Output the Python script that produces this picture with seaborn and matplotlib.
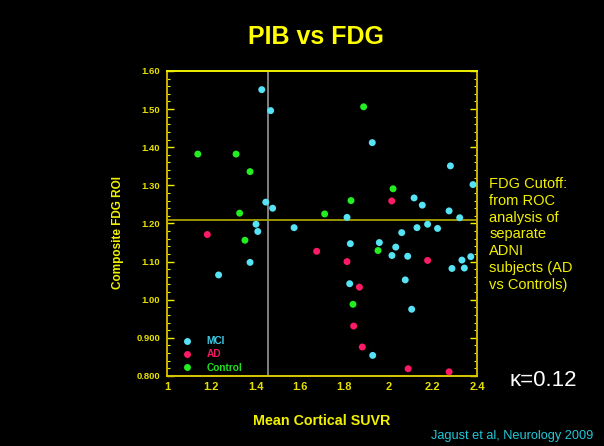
import matplotlib
matplotlib.use("Agg")
import matplotlib.pyplot as plt
import seaborn as sns
import pandas as pd
from matplotlib.ticker import MultipleLocator

# ---- data ----
mci_x = [1.428, 1.468, 1.446, 1.477, 1.402, 1.574, 1.410, 1.375, 1.233, 1.927,
         2.280, 2.382, 2.116, 2.153, 1.813, 2.274, 2.322, 2.129, 2.177, 2.222,
         2.060, 1.828, 1.959, 2.033, 2.016, 2.087, 2.372, 2.332, 2.287, 2.343,
         2.076, 1.825, 2.105, 1.929]
mci_y = [1.551, 1.496, 1.256, 1.240, 1.198, 1.189, 1.179, 1.098, 1.065, 1.412,
         1.351, 1.302, 1.267, 1.248, 1.216, 1.233, 1.215, 1.189, 1.198, 1.187,
         1.176, 1.147, 1.150, 1.138, 1.116, 1.114, 1.113, 1.104, 1.082, 1.083,
         1.052, 1.042, 0.975, 0.854]
ad_x = [1.182, 1.676, 2.015, 1.813, 2.177, 1.869, 1.843, 1.882, 2.089, 2.274]
ad_y = [1.171, 1.127, 1.259, 1.100, 1.103, 1.033, 0.931, 0.876, 0.819, 0.811]
ctrl_x = [1.139, 1.312, 1.375, 1.328, 1.712, 1.888, 2.021, 1.831, 1.352, 1.953, 1.840]
ctrl_y = [1.382, 1.382, 1.336, 1.227, 1.225, 1.506, 1.291, 1.260, 1.156, 1.129, 0.988]

groups = ["MCI", "AD", "Control"]
x_ticks = [1.0, 1.2, 1.4, 1.6, 1.8, 2.0, 2.2, 2.4]
x_tick_labels = ["1", "1.2", "1.4", "1.6", "1.8", "2", "2.2", "2.4"]
y_ticks = [0.8, 0.9, 1.0, 1.1, 1.2, 1.3, 1.4, 1.5, 1.6]
y_tick_labels = ["0.800", "0.900", "1.00", "1.10", "1.20", "1.30", "1.40", "1.50", "1.60"]
pib_cutoff = 1.455
fdg_cutoff = 1.21

df = pd.DataFrame({
    "x": mci_x + ad_x + ctrl_x,
    "y": mci_y + ad_y + ctrl_y,
    "group": ["MCI"] * len(mci_x) + ["AD"] * len(ad_x) + ["Control"] * len(ctrl_x),
})

palette = {"MCI": "#55e3f5", "AD": "#ff1a66", "Control": "#22ee22"}
text_cols = {"MCI": "#3ccbe6", "AD": "#f01860", "Control": "#22dd22"}
YEL = "#f2f200"
TICKY = "#e6e000"

sns.set_style("dark")
plt.rcParams["font.family"] = ["Liberation Sans", "DejaVu Sans"]

fig = plt.figure(figsize=(6.04, 4.46), dpi=100, facecolor="black")
ax = fig.add_axes([0.2765, 0.1570, 0.5132, 0.6839])
ax.set_facecolor("black")

ax.axvline(pib_cutoff, color="#8a8a8a", lw=1.3, zorder=1)
ax.axhline(fdg_cutoff, color="#a8a000", lw=1.3, zorder=1)

sns.scatterplot(data=df, x="x", y="y", hue="group", hue_order=groups,
                palette=palette, s=25, linewidth=0, ax=ax, zorder=3, clip_on=False)

ax.set_xlim(1.0, 2.4)
ax.set_ylim(0.8, 1.6)
ax.set_xticks(x_ticks)
ax.set_xticklabels(x_tick_labels)
ax.set_yticks(y_ticks)
ax.set_yticklabels(y_tick_labels)
ax.yaxis.set_minor_locator(MultipleLocator(0.02))
ax.grid(False)

ax.tick_params(axis="x", which="both", length=0, pad=4, labelsize=8,
               labelcolor=TICKY)
for lab in ax.get_xticklabels():
    lab.set_fontweight("bold")
ax.tick_params(axis="y", which="major", direction="in", length=5, width=1,
               color=YEL, left=True, right=True, labelsize=6.8, labelcolor=TICKY, pad=5)
ax.tick_params(axis="y", which="minor", direction="in", length=2.5, width=0.8,
               color=YEL, left=True, right=True)
for lab in ax.get_yticklabels():
    lab.set_fontweight("bold")

ax.spines["top"].set_color("#f0f000")
ax.spines["left"].set_color("#c8b400")
ax.spines["right"].set_color("#c8b400")
ax.spines["bottom"].set_color("#d8c800")
for sp in ax.spines.values():
    sp.set_linewidth(1.4)
    sp.set_visible(True)

ax.set_xlabel("Mean Cortical SUVR", color=YEL, fontsize=10.3, fontweight="bold")
ax.xaxis.set_label_coords(0.5, -0.125)
ax.set_ylabel("Composite FDG ROI", color=YEL, fontsize=8.5, fontweight="bold")
ax.yaxis.set_label_coords(-0.139, 0.469)

leg = ax.legend(loc="lower left", bbox_to_anchor=(0.01, -0.012), frameon=False,
                fontsize=7.3, handletextpad=0.9, labelspacing=0.3,
                borderaxespad=0.3, markerscale=1.0)
for t in leg.get_texts():
    t.set_color(text_cols[t.get_text()])
    t.set_fontweight("bold")

fig.text(0.523, 0.918, "PIB vs FDG", color="#ffff00", fontsize=18,
         fontweight="bold", ha="center", va="center")
fig.text(0.810, 0.603,
         "FDG Cutoff:\nfrom ROC\nanalysis of\nseparate\nADNI\nsubjects (AD\nvs Controls)",
         color=YEL, fontsize=10.5, ha="left", va="top", linespacing=1.25)
fig.text(0.843, 0.146, "\u03ba=0.12", color="white", fontsize=16, ha="left", va="center")
fig.text(0.983, 0.023, "Jagust et al, Neurology 2009", color="#22c8d8",
         fontsize=9.2, ha="right", va="center")

fig.savefig("out.png", dpi=100, facecolor="black")
